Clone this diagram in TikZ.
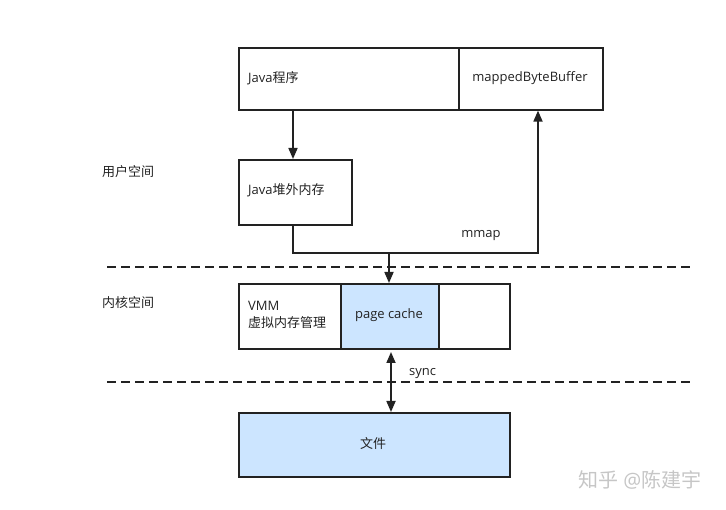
\documentclass[tikz,border=0pt]{standalone}
\usepackage{fontspec}
\setmainfont{Noto Sans CJK SC}
\newfontfamily\latf{Open Sans}
\newcommand{\lt}[1]{{\latf #1}}
\usetikzlibrary{arrows.meta,calc}
\definecolor{lineC}{HTML}{222222}
\definecolor{fillC}{HTML}{CCE5FF}
\begin{document}
\begin{tikzpicture}[x=1pt,y=-1pt,
  box/.style={draw=lineC,line width=1.6pt},
  conn/.style={draw=lineC,line width=1.7pt,-{Triangle[length=11pt,width=9pt]}},
  dconn/.style={draw=lineC,line width=1.7pt,{Triangle[length=11pt,width=9pt]}-{Triangle[length=11pt,width=9pt]}},
  sep/.style={draw=lineC,line width=1.6pt,dash pattern=on 9pt off 5pt},
  txt/.style={font=\fontsize{13}{15}\selectfont,text=lineC,inner sep=0pt}]
\useasboundingbox (0,0) rectangle (726,510);
% top box
\node[box,minimum width=220pt,minimum height=62pt,anchor=north west] (java) at (238,47) {};
\node[box,minimum width=144pt,minimum height=62pt,anchor=north west] (mbb) at (458,47) {};
\node[txt,anchor=west] (javat) at (248,78) {\lt{Java}程序};
\node[txt] (mbbt) at (530,78) {\lt{mappedByteBuffer}};
% heap box
\node[box,minimum width=113pt,minimum height=65pt,anchor=north west] (heap) at (238,159) {};
\node[txt,anchor=west] (heapt) at (248,190) {\lt{Java}堆外内存};
% kernel box
\node[box,minimum width=102pt,minimum height=65pt,anchor=north west] (vmm) at (238,283) {};
\node[box,fill=fillC,minimum width=98pt,minimum height=65pt,anchor=north west] (pc) at (340,283) {};
\node[box,minimum width=71pt,minimum height=65pt,anchor=north west] (emp) at (438,283) {};
\node[txt,anchor=west] (vmmt1) at (248,306) {\lt{VMM}};
\node[txt,anchor=west] (vmmt2) at (248,323) {虚拟内存管理};
\node[txt] (pct) at (389,315) {\lt{page cache}};
% file box
\node[box,fill=fillC,minimum width=271pt,minimum height=64pt,anchor=north west] (file) at (238,412) {};
\node[txt] (filet) at (373,444) {文件};
% labels
\node[txt,anchor=west] (user) at (102,172) {用户空间};
\node[txt,anchor=west] (kern) at (102,303) {内核空间};
\node[txt] (mmap) at (481,236) {\lt{mmap}};
\node[txt,anchor=west] (sync) at (409,374) {\lt{sync}};
% dashed separators
\coordinate (d1a) at (107,267); \coordinate (d1b) at (691,267);
\coordinate (d2a) at (107,382); \coordinate (d2b) at (691,382);
\draw[sep] (d1a) -- (d1b);
\draw[sep] (d2a) -- (d2b);
% connectors
\coordinate (j) at (389,253);
\coordinate (ja) at ($(java.south west)+(55,0)$);
\coordinate (ha) at ($(heap.south west)+(55,0)$);
\coordinate (ma) at ($(mbb.south west)+(80,0)$);
\coordinate (sa) at (391,352);
\coordinate (sb) at (391,412);
\draw[conn] (ja) -- (ja |- heap.north);
\draw[draw=lineC,line width=1.7pt] (ha) |- (j);
\draw[conn] (j) -- (pc.north -| j);
\draw[conn] (j) -| (ma);
\draw[dconn] (sa) -- (sb);
% watermark
\node[font=\fontsize{20}{23}\selectfont,text=gray!45,inner sep=0pt] (wm) at (640,480) {知乎 \lt{@}陈建宇};
\end{tikzpicture}
\end{document}
